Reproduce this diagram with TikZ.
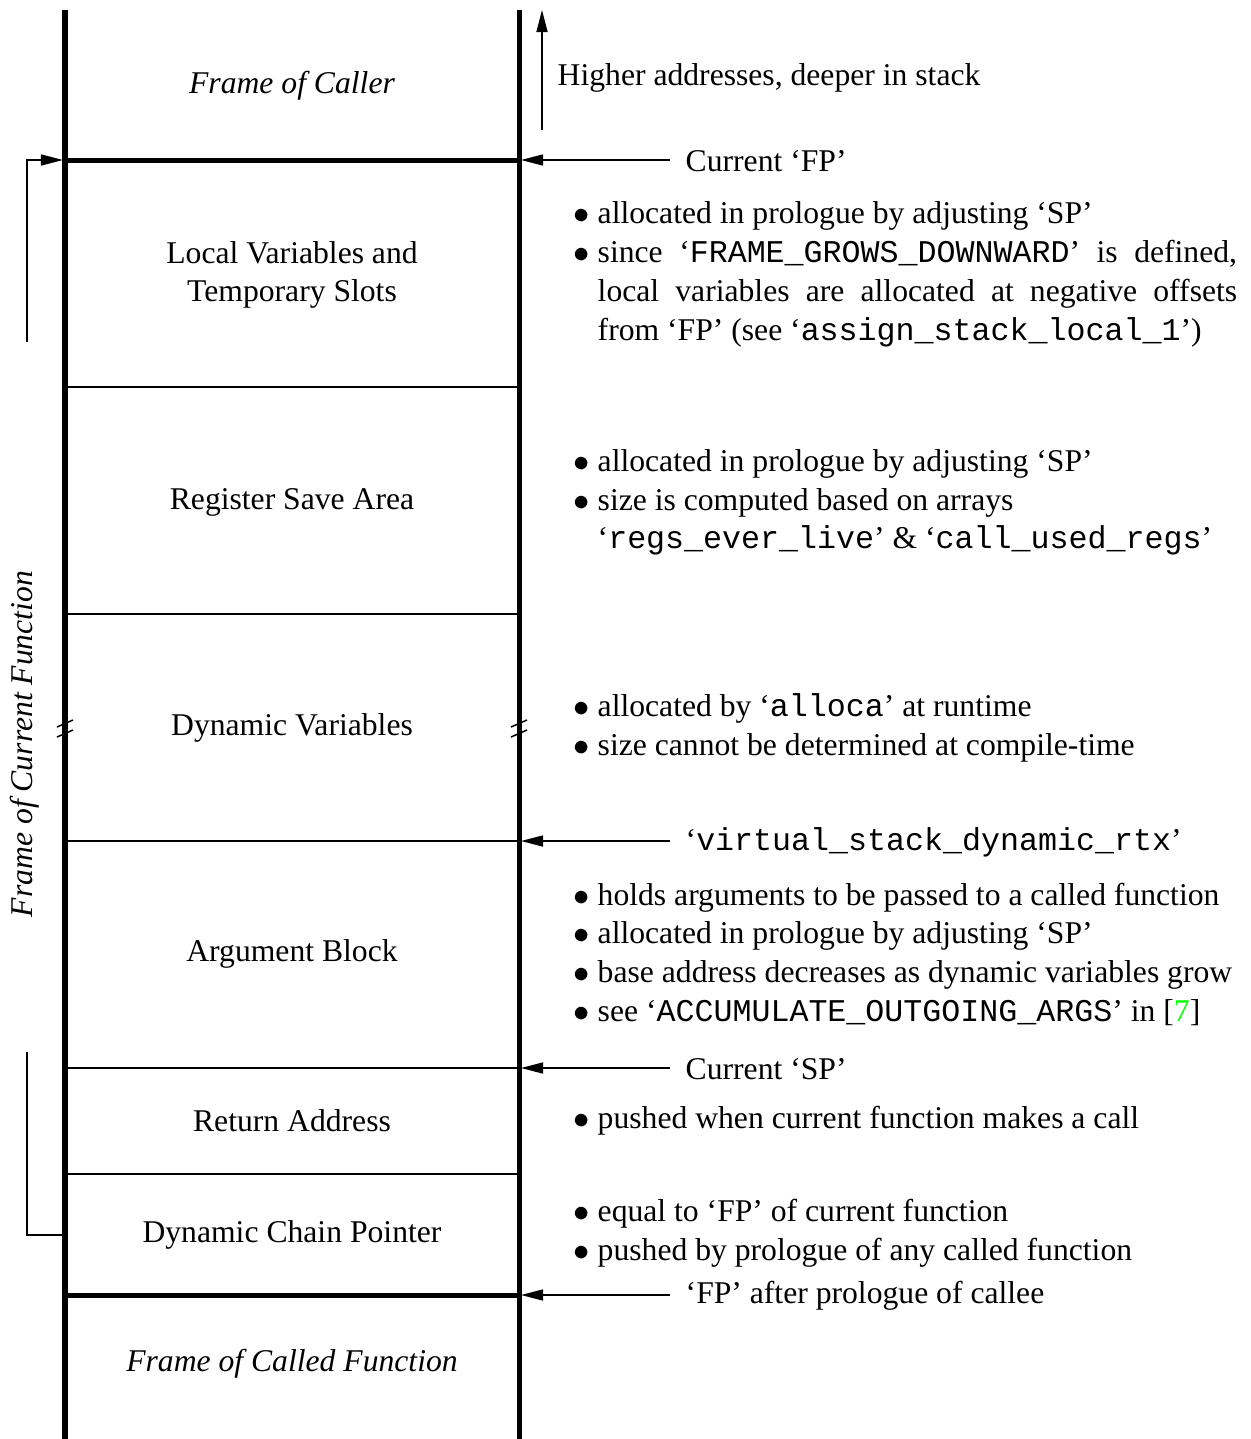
\documentclass[tikz,border=0pt]{standalone}
\usepackage{fontspec}
\setmainfont{Liberation Serif}
\setmonofont{Liberation Mono}
\usetikzlibrary{arrows.meta}
\tikzset{
	>={Triangle[length=2.2mm,width=1.1mm]},
	wall/.style={line width=0.5mm},
	border/.style={line width=0.5mm},
	divider/.style={line width=0.15mm},
	area/.style={
		font=\fontsize{9}{11}\selectfont,
		align=center},
	notes/.style={
		font=\fontsize{9}{11}\selectfont,
		text width=6.63cm,
		align=justify,
		inner sep=0pt,
		anchor=west},
	ptrlabel/.style={
		font=\fontsize{9}{11}\selectfont,
		inner xsep=0.15cm,
		anchor=west},
	pointer/.style={draw, line width=0.15mm, ->},
	brk/.style={line width=0.15mm},
}
\newcommand*\stackitem[1]{\par\noindent\hangindent=0.24cm\hangafter=1%
	\makebox[0.24cm][l]{$\bullet$}#1\par}

\begin{document}
\begin{tikzpicture}
[x=0.01cm, y=-0.01cm]
\useasboundingbox (0,0) rectangle (1250,1439);
% stack walls and frame borders
\draw[wall] (65,10) -- (65,1439);
\draw[wall] (519,10) -- (519,1439);
\draw[border] (65,160) -- (519,160);
\draw[border] (65,1295) -- (519,1295);
\foreach \y in {387,614,841,1068,1174}
	\draw[divider] (65,\y) -- (519,\y);
% break marks
\foreach \x in {65,519}
	\foreach \dy in {0,10}
		\draw[brk] (\x-8,727+\dy) -- (\x+8,720+\dy);

% areas
\node[area, font=\fontsize{9}{11}\selectfont\itshape] (caller) at (292,86) {Frame of Caller};
\node[area] (locals) at (292,275) {Local Variables and\\Temporary Slots};
\node[area] (regsave) at (292,502) {Register Save Area};
\node[area] (dynvars) at (292,728) {Dynamic Variables};
\node[area] (argblock) at (292,954) {Argument Block};
\node[area] (retaddr) at (292,1121) {Return Address};
\node[area] (chainptr) at (292,1235) {Dynamic Chain Pointer};
\node[area, font=\fontsize{9}{11}\selectfont\itshape] (callee) at (292,1364) {Frame of Called Function};
\node[area, font=\fontsize{9}{11}\selectfont\itshape, rotate=90] (curframe) at (25,744) {Frame of Current Function};

% growth direction
\coordinate (up0) at (542,130);
\coordinate (up1) at (542,10);
\draw[pointer] (up0) -- (up1);
\node[ptrlabel, inner sep=0pt] (higher) at (557,78) {Higher addresses, deeper in stack};

% pointers into the stack
\coordinate (fpwall) at (521,160);
\coordinate (rtxwall) at (521,841);
\coordinate (spwall) at (521,1068);
\coordinate (newfpwall) at (521,1295);
\node[ptrlabel] (curfp) at (670,161) {Current `FP'};
\node[ptrlabel] (rtx) at (670,842) {`\texttt{virtual\_stack\_dynamic\_rtx}'};
\node[ptrlabel] (cursp) at (670,1069) {Current `SP'};
\node[ptrlabel] (newfp) at (670,1296) {`FP' after prologue of callee};
\draw[pointer] (curfp.west |- fpwall) -- (fpwall);
\draw[pointer] (rtx.west |- rtxwall) -- (rtxwall);
\draw[pointer] (cursp.west |- spwall) -- (spwall);
\draw[pointer] (newfp.west |- newfpwall) -- (newfpwall);

% dynamic chain
\coordinate (chaintop) at (27,342);
\coordinate (fpleft) at (63,160);
\coordinate (chainbot) at (27,1052);
\coordinate (chainleft) at (63,1235);
\draw[pointer] (chaintop) |- (fpleft);
\draw[divider] (chainbot) |- (chainleft);

% notes
\node[notes] (localnotes) at (573,266) {%
	\stackitem{allocated in prologue by adjusting `SP'}%
	\stackitem{since `\texttt{FRAME\_GROWS\_DOWNWARD}' is defined, local variables are allocated at negative offsets from `FP' (see `\texttt{assign\_stack\_local\_1}')}};
\node[notes] (regnotes) at (573,494) {%
	\stackitem{allocated in prologue by adjusting `SP'}%
	\stackitem{size is computed based on arrays\hfil\break `\texttt{regs\_ever\_live}' \& `\texttt{call\_used\_regs}'}};
\node[notes] (dynnotes) at (573,720) {%
	\stackitem{allocated by `\texttt{alloca}' at runtime}%
	\stackitem{size cannot be determined at compile-time}};
\node[notes] (argnotes) at (573,946) {%
	\stackitem{holds arguments to be passed to a called function}%
	\stackitem{allocated in prologue by adjusting `SP'}%
	\stackitem{base address decreases as dynamic variables grow}%
	\stackitem{see `\texttt{ACCUMULATE\_OUTGOING\_ARGS}' in [\textcolor{green}{7}]}};
\node[notes] (retnotes) at (573,1113) {%
	\stackitem{pushed when current function makes a call}};
\node[notes] (chainnotes) at (573,1225) {%
	\stackitem{equal to `FP' of current function}%
	\stackitem{pushed by prologue of any called function}};
\end{tikzpicture}
\end{document}
